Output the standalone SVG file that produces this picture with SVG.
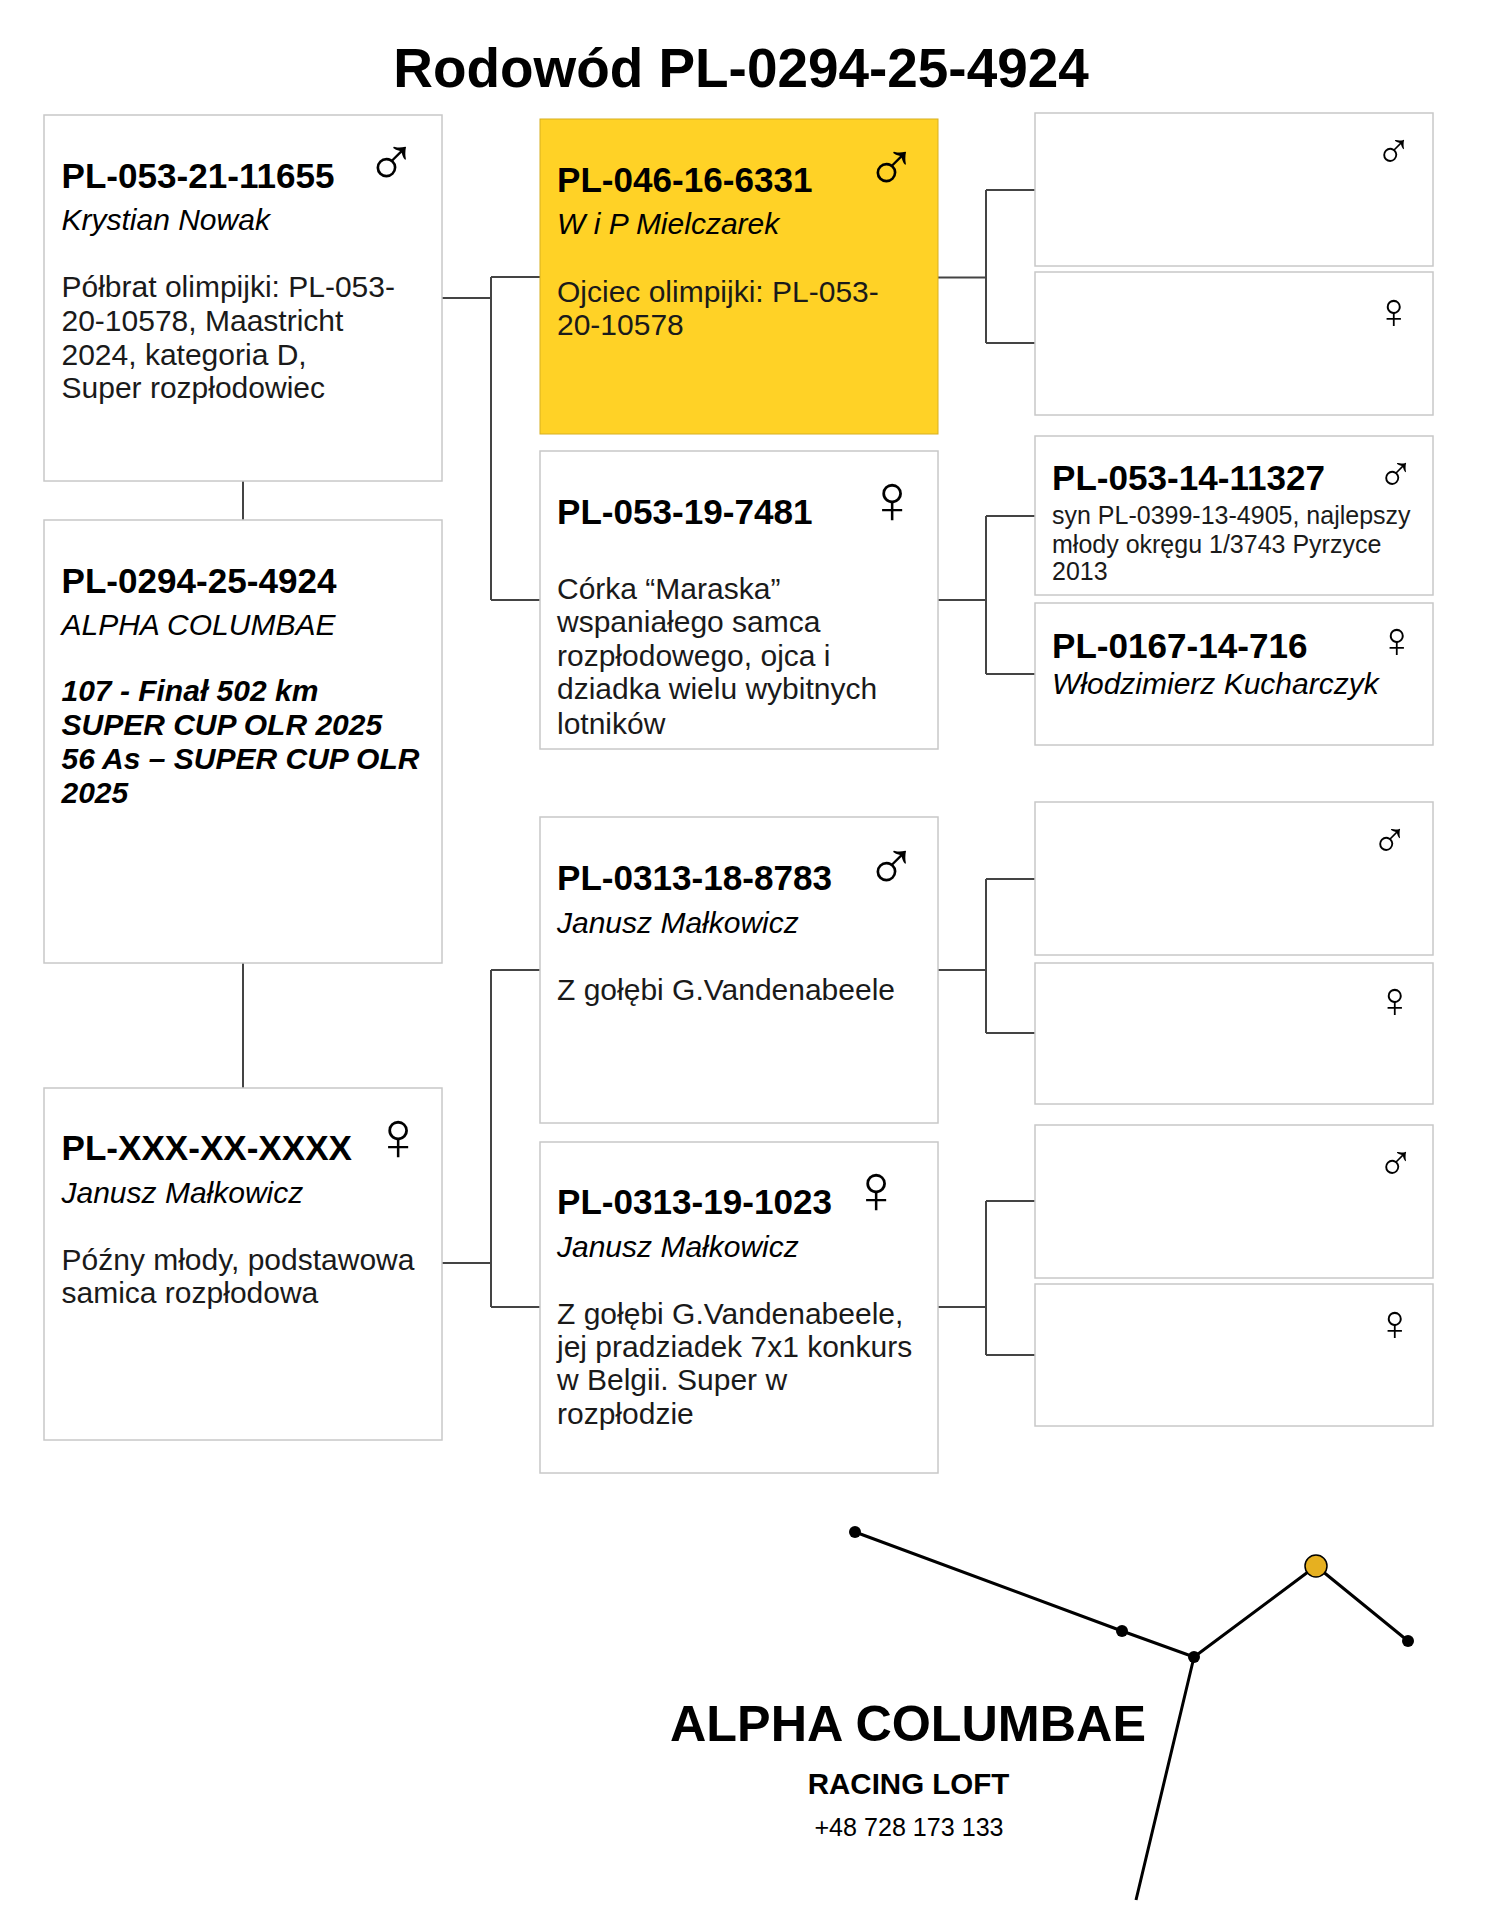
<svg xmlns="http://www.w3.org/2000/svg" width="1500" height="1923" viewBox="0 0 1500 1923">
<style>
text{font-family:"Liberation Sans",Arial,sans-serif;fill:#000}
.box{fill:#fff;stroke:#c8c8c8;stroke-width:1.5}
.gold{fill:#ffd226;stroke:#d8b020;stroke-width:1}
.id{font-weight:700;font-size:35.1px}
.b{font-size:30px;fill:#1a1a1a}
.i{font-size:30px;font-style:italic}
.bi{font-size:30px;font-style:italic;font-weight:700}
.s{font-size:25px;fill:#1a1a1a}
.g{font-size:70px}
.g2{font-size:50px}
.c{fill:none;stroke:#444;stroke-width:2}
.l{stroke:#000;stroke-width:3;fill:none}
</style>
<rect width="1500" height="1923" fill="#fff"/>
<text id="title" x="741" y="86.5" text-anchor="middle" font-size="54.9" font-weight="700">Rodowód PL-0294-25-4924</text>
<g id="connectors">
<path class="c" d="M243 481V520M243 963V1088M442 298H491M491 277V600M491 277H540M491 600H540"/>
<path class="c" d="M442 1263H491M491 970V1307M491 970H540M491 1307H540"/>
<path class="c" d="M938 277.5H986M986 190V343M986 190H1035M986 343H1035"/>
<path class="c" d="M938 600H986M986 516V674M986 516H1035M986 674H1035"/>
<path class="c" d="M938 970H986M986 879V1033M986 879H1035M986 1033H1035"/>
<path class="c" d="M938 1307H986M986 1201V1355M986 1201H1035M986 1355H1035"/>
</g>
<g id="n-sire-sire"><rect class="box" x="44" y="115" width="398" height="366"/>
<text class="id" x="61.5" y="187.5">PL-053-21-11655</text><text class="g" x="365" y="186">♂</text>
<text class="i" x="61.5" y="230">Krystian Nowak</text>
<text class="b" x="61.5" y="297">Półbrat olimpijki: PL-053-</text><text class="b" x="61.5" y="331">20-10578, Maastricht</text><text class="b" x="61.5" y="365">2024, kategoria D,</text><text class="b" x="61.5" y="398">Super rozpłodowiec</text></g>
<g id="n-root"><rect class="box" x="44" y="520" width="398" height="443"/>
<text class="id" x="61.5" y="592.5">PL-0294-25-4924</text>
<text class="i" x="61.5" y="635">ALPHA COLUMBAE</text>
<text class="bi" x="61.5" y="701">107 - Finał 502 km</text><text class="bi" x="61.5" y="735">SUPER CUP OLR 2025</text><text class="bi" x="61.5" y="769">56 As – SUPER CUP OLR</text><text class="bi" x="61.5" y="803">2025</text></g>
<g id="n-dam"><rect class="box" x="44" y="1088" width="398" height="352"/>
<text class="id" x="61.5" y="1160">PL-XXX-XX-XXXX</text><text class="g" x="372" y="1160">♀</text>
<text class="i" x="61.5" y="1203">Janusz Małkowicz</text>
<text class="b" x="61.5" y="1270">Późny młody, podstawowa</text><text class="b" x="61.5" y="1303">samica rozpłodowa</text></g>
<g id="n-gold"><rect class="gold" x="540" y="119" width="398" height="315"/>
<text class="id" x="557" y="192">PL-046-16-6331</text><text class="g" x="865" y="191">♂</text>
<text class="i" x="557" y="234">W i P Mielczarek</text>
<text class="b" x="557" y="302">Ojciec olimpijki: PL-053-</text><text class="b" x="557" y="335">20-10578</text></g>
<g id="n-f2"><rect class="box" x="540" y="451" width="398" height="298"/>
<text class="id" x="557" y="524">PL-053-19-7481</text><text class="g" x="866" y="523">♀</text>
<text class="b" x="557" y="599">Córka “Maraska”</text><text class="b" x="557" y="632">wspaniałego samca</text><text class="b" x="557" y="666">rozpłodowego, ojca i</text><text class="b" x="557" y="699">dziadka wielu wybitnych</text><text class="b" x="557" y="734">lotników</text></g>
<g id="n-m1"><rect class="box" x="540" y="817" width="398" height="306"/>
<text class="id" x="557" y="890">PL-0313-18-8783</text><text class="g" x="865" y="890">♂</text>
<text class="i" x="557" y="933">Janusz Małkowicz</text>
<text class="b" x="557" y="1000">Z gołębi G.Vandenabeele</text></g>
<g id="n-m2"><rect class="box" x="540" y="1142" width="398" height="331"/>
<text class="id" x="557" y="1214">PL-0313-19-1023</text><text class="g" x="850" y="1213">♀</text>
<text class="i" x="557" y="1257">Janusz Małkowicz</text>
<text class="b" x="557" y="1324">Z gołębi G.Vandenabeele,</text><text class="b" x="557" y="1357">jej pradziadek 7x1 konkurs</text><text class="b" x="557" y="1390">w Belgii. Super w</text><text class="b" x="557" y="1424">rozpłodzie</text></g>
<g id="n-g1"><rect class="box" x="1035" y="113" width="398" height="153"/><text class="g2" x="1375" y="168">♂</text></g>
<g id="n-g2"><rect class="box" x="1035" y="272" width="398" height="143"/><text class="g2" x="1375" y="328">♀</text></g>
<g id="n-g3"><rect class="box" x="1035" y="436" width="398" height="159"/>
<text class="id" x="1052" y="490">PL-053-14-11327</text><text class="g2" x="1377" y="491">♂</text>
<text class="s" x="1052" y="524">syn PL-0399-13-4905, najlepszy</text><text class="s" x="1052" y="553">młody okręgu 1/3743 Pyrzyce</text><text class="s" x="1052" y="580">2013</text></g>
<g id="n-g4"><rect class="box" x="1035" y="603" width="398" height="142"/>
<text class="id" x="1052" y="657.5">PL-0167-14-716</text><text class="g2" x="1378" y="657">♀</text>
<text class="i" x="1052" y="694">Włodzimierz Kucharczyk</text></g>
<g id="n-g5"><rect class="box" x="1035" y="802" width="398" height="153"/><text class="g2" x="1371" y="857">♂</text></g>
<g id="n-g6"><rect class="box" x="1035" y="963" width="398" height="141"/><text class="g2" x="1376" y="1017">♀</text></g>
<g id="n-g7"><rect class="box" x="1035" y="1125" width="398" height="153"/><text class="g2" x="1377" y="1180">♂</text></g>
<g id="n-g8"><rect class="box" x="1035" y="1284" width="398" height="142"/><text class="g2" x="1376" y="1340">♀</text></g>
<g id="logo">
<path class="l" d="M855 1532L1122 1631L1194 1657L1316 1566L1408 1641M1194 1657L1136 1900"/>
<circle cx="855" cy="1532" r="6"/><circle cx="1122" cy="1631" r="6"/><circle cx="1194" cy="1657" r="6"/><circle cx="1408" cy="1641" r="6"/>
<circle cx="1316" cy="1566" r="11" fill="#e6b020" stroke="#000" stroke-width="1.5"/>
<text x="908" y="1741" text-anchor="middle" font-size="50.3" font-weight="700">ALPHA COLUMBAE</text>
<text x="908.5" y="1794" text-anchor="middle" font-size="29.5" font-weight="700">RACING LOFT</text>
<text x="909" y="1836" text-anchor="middle" font-size="25.1">+48 728 173 133</text>
</g>
</svg>
